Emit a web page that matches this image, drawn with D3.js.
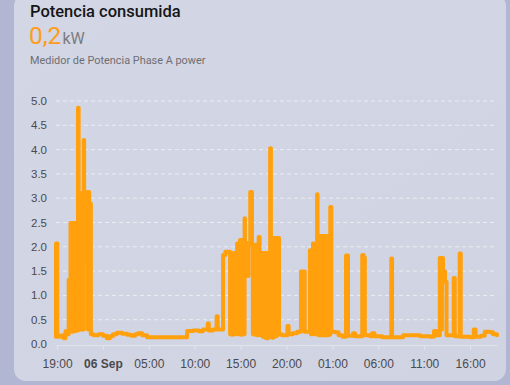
<!DOCTYPE html>
<html><head><meta charset="utf-8">
<script src="https://cdn.jsdelivr.net/npm/d3@7"></script>
<style>html,body{margin:0;padding:0;background:#b1b7d3;overflow:hidden}</style>
</head><body>
<svg id="c" width="510" height="385"></svg>
<script>
// ---- data ----
const title = "Potencia consumida";
const currentValue = "0,2";
const unit = "kW";
const seriesName = "Medidor de Potencia Phase A power";
const startTime = "2023-09-05T19:00:00";      // minute offsets below are from this instant
const domainMinutes = [-7, 2876];
const yTicks = [0, 0.5, 1, 1.5, 2, 2.5, 3, 3.5, 4, 4.5, 5];
const xTickHours = [0, 5, 10, 15, 20, 25, 30, 35, 40, 45];
// [minutes since start, kW]
const readings = [
 [-8,0.15],[-7,2.07],[2,0.15],[8,0.17],[20,0.15],[33,0.18],[44,0.12],[55,0.26],[62,0.2],
 [76,1.32],[88,2.49],[95,0.25],[101,2.49],[107,0.26],[113,2.49],[119,0.27],[125,2.49],[131,0.28],
 [137,4.86],[141,3.1],[146,0.3],[151,3.1],[157,0.3],[163,3.1],[169,0.3],[174,4.2],[177,1.7],
 [183,3.13],[189,1.7],[195,3.13],[201,0.3],[206,3.13],[210,2.89],[214,0.3],[218,2.89],[221,0.2],
 [240,0.18],[270,0.2],[300,0.17],[325,0.12],[345,0.16],[365,0.2],[390,0.23],[425,0.21],[458,0.19],
 [484,0.17],[510,0.2],[530,0.22],[556,0.18],[588,0.14],[850,0.27],[889,0.28],[928,0.26],[954,0.3],
 [985,0.42],[992,0.28],[1020,0.3],[1043,0.57],[1050,0.3],
 [1085,1.83],[1100,1.9],[1131,0.2],[1136,1.87],[1142,0.19],[1148,1.87],[1154,0.2],[1160,1.87],[1166,0.2],[1171,1.87],
 [1177,2.07],[1184,0.2],[1190,2.07],[1196,2.14],[1203,0.19],[1210,2.14],[1217,0.2],[1226,2.59],
 [1228,2.08],[1234,1.4],[1240,2.08],[1246,1.4],[1252,2.08],[1263,3.13],[1274,2.04],[1280,0.2],
 [1287,2.04],[1294,0.19],[1301,2.04],[1308,0.18],[1318,2.2],[1324,1.87],[1331,0.18],[1338,1.87],
 [1345,0.15],[1352,1.87],[1359,0.13],[1366,1.87],[1373,0.12],[1380,1.8],[1393,4.03],[1398,2.18],
 [1405,0.13],[1412,2.18],[1419,0.15],[1426,2.18],[1433,0.17],[1440,2.18],[1451,0.2],
 [1470,0.18],[1506,0.37],[1514,0.2],[1540,0.22],[1570,0.25],[1595,1.49],[1619,0.25],
 [1653,1.93],[1660,0.2],[1667,1.93],[1673,2.07],[1680,0.2],[1687,2.07],[1694,0.2],[1700,3.08],
 [1703,2.22],[1710,0.18],[1717,2.22],[1724,0.18],[1731,2.22],[1738,0.18],[1745,2.22],[1752,0.18],
 [1759,2.22],[1766,0.18],[1773,2.22],[1780,0.19],[1786,2.82],[1793,0.25],
 [1815,0.24],[1840,0.18],[1865,0.15],[1889,1.82],[1902,0.17],[1935,0.22],[1948,0.16],
 [1995,1.83],[2004,1.78],[2012,0.18],[2046,0.16],[2059,0.22],[2075,0.16],[2124,0.14],
 [2185,1.76],[2190,0.14],[2262,0.18],[2373,0.16],[2438,0.15],[2464,0.27],[2478,0.18],
 [2502,1.77],[2510,0.3],[2516,1.77],[2523,1.49],[2536,1.28],[2546,0.18],[2593,1.36],[2600,0.16],
 [2632,1.86],[2639,0.15],[2700,0.14],[2724,0.3],[2736,0.15],[2770,0.17],[2796,0.25],[2830,0.24],
 [2850,0.2],[2876,0.18]
];

// ---- drawing ----
const svg = d3.select("#c");
const t0 = new Date(startTime);
const toDate = m => new Date(t0.getTime() + m * 60000);
const data = readings.map(([m, v]) => ({t: toDate(m), v}));

const defs = svg.append("defs");
const grad = defs.append("linearGradient").attr("id","bg").attr("x1",0).attr("y1",0).attr("x2",1).attr("y2",1);
grad.append("stop").attr("offset","0%").attr("stop-color","#d3d6e5");
grad.append("stop").attr("offset","100%").attr("stop-color","#cfd3e2");

svg.append("rect").attr("x",14).attr("y",-6).attr("width",492).attr("height",387)
  .attr("rx",12).attr("fill","url(#bg)");

svg.append("text").attr("x",30).attr("y",17).text(title)
  .attr("font-family","Roboto").attr("font-size",16.5).attr("font-weight",500).attr("fill","#161616");
const big = svg.append("text").attr("x",29).attr("y",44).attr("font-family","Roboto");
big.append("tspan").text(currentValue).attr("font-size",24.5).attr("fill","#ff9c1a");
big.append("tspan").text(unit).attr("font-size",16).attr("fill","#7c7c80").attr("dx",1);
svg.append("text").attr("x",30).attr("y",64).text(seriesName)
  .attr("font-family","Roboto").attr("font-size",10.9).attr("fill","#6e6e72");

const x = d3.scaleTime().domain(domainMinutes.map(toDate)).range([56, 497]);
const y = d3.scaleLinear().domain([0, 5]).range([344, 101]);

// grid
svg.append("g").selectAll("line").data(yTicks.filter(v => v > 0)).join("line")
  .attr("x1",56).attr("x2",497).attr("y1",d=>y(d)).attr("y2",d=>y(d))
  .attr("stroke","#ecedf2").attr("stroke-width",1).attr("stroke-dasharray","4,3");

// y labels
svg.append("g").selectAll("text").data(yTicks).join("text")
  .attr("x",47).attr("y",d=>y(d)).attr("dy","0.35em").attr("text-anchor","end")
  .attr("font-family","Liberation Sans, Arial").attr("font-size",11.5).attr("fill","#4a4a4e")
  .text(d=>d.toFixed(1));

// x axis
const fmtH = d3.timeFormat("%H:%M"), fmtD = d3.timeFormat("%d %b");
const xAxis = d3.axisBottom(x).tickValues(xTickHours.map(h => toDate(h*60)))
  .tickSize(5).tickSizeOuter(0).tickPadding(9)
  .tickFormat(d => d.getHours() === 0 && d.getMinutes() === 0 ? fmtD(d) : fmtH(d));
const gx = svg.append("g").attr("transform","translate(0,345)").call(xAxis);
gx.select(".domain").attr("stroke","#e3e4ea");
gx.selectAll(".tick line").attr("stroke","#e3e4ea");
gx.selectAll(".tick text").attr("font-family","Liberation Sans, Arial").attr("font-size",12)
  .attr("fill","#4a4a4e")
  .attr("font-weight", d => d.getHours() === 0 ? "bold" : "normal");

// line
const line = d3.line().x(d=>x(d.t)).y(d=>y(d.v)).curve(d3.curveStepAfter);
svg.append("path").datum(data).attr("d",line).attr("fill","none")
  .attr("stroke","#ffa00c").attr("stroke-width",4).attr("stroke-linejoin","round").attr("stroke-linecap","round");
</script>
</body></html>
